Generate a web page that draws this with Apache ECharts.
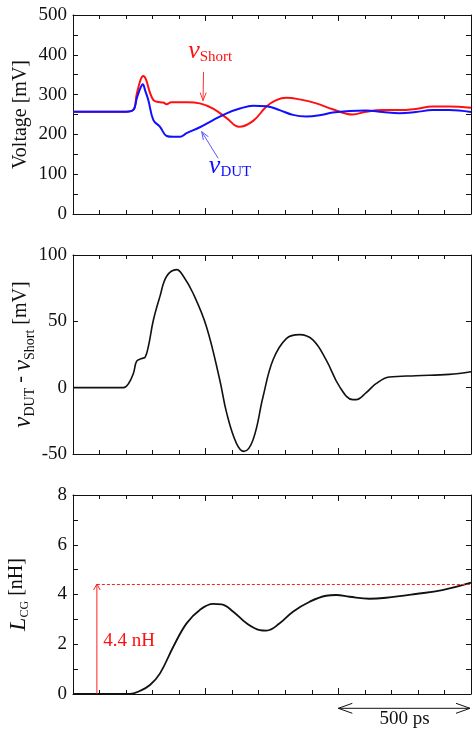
<!DOCTYPE html>
<html><head><meta charset="utf-8">
<script src="https://cdn.jsdelivr.net/npm/echarts@6/dist/echarts.min.js"></script>
<style>html,body{margin:0;padding:0;background:#fff}#c{width:472px;height:736px}</style>
</head><body><div id="c"></div>
<script>
// ---- data (time in ps) ----
const tShort = [0, 200, 228, 240, 255, 265, 275, 290, 303, 316, 340, 353, 370, 400, 430, 478, 528, 579, 626, 679, 729, 766, 804, 854, 917, 979, 1054, 1104, 1167, 1230, 1292, 1355, 1418, 1500];
const vShort = [257, 257, 262, 300, 338, 347, 338, 305, 286, 282, 280, 276, 281, 281, 281, 278, 265, 241, 219, 234, 270, 286, 292, 288, 278, 263, 250, 257, 261, 261, 264, 270, 270, 267];
const tDut = [0, 200, 228, 240, 255, 263, 272, 284, 303, 328, 353, 378, 403, 428, 478, 528, 579, 629, 679, 729, 779, 829, 879, 929, 979, 1042, 1104, 1167, 1230, 1292, 1355, 1418, 1500];
const vDut = [257, 257, 262, 290, 318, 326, 310, 286, 236, 219, 196, 194, 194, 203, 218, 236, 253, 265, 272, 271, 261, 249, 245, 248, 255, 259, 260, 256, 253, 256, 261, 261, 256];
const tDiff = [0, 190, 209, 228, 240, 259, 272, 284, 303, 328, 353, 391, 416, 453, 503, 553, 579, 616, 644, 679, 716, 754, 804, 854, 904, 954, 1004, 1054, 1067, 1104, 1142, 1192, 1292, 1418, 1500];
const vDiff = [0, 0, 3, 11, 20, 22, 23, 31, 51, 69, 84, 89, 84, 71, 46, 6, -19, -42, -48, -39, -7, 21, 37, 40, 36, 21, 1, -9, -9, -4, 3, 8, 9, 10, 12];
const tL = [0, 215, 253, 290, 328, 378, 428, 478, 528, 560, 604, 654, 704, 729, 779, 829, 892, 954, 992, 1042, 1117, 1180, 1292, 1392, 1500];
const lCG = [0, 0, 0.13, 0.36, 0.83, 1.9, 2.84, 3.38, 3.62, 3.6, 3.31, 2.84, 2.57, 2.55, 2.84, 3.31, 3.71, 3.95, 3.98, 3.91, 3.83, 3.87, 4.02, 4.18, 4.48];
const lLevel = 4.42;      // nH, dashed reference level
const lLabel = '4.4 nH';
const scaleLabel = '500 ps';
const scaleFrom = 1000, scaleTo = 1500;

const FONT = '"Liberation Serif", "Times New Roman", serif';
const BLACK = '#111';
const pairs = (t, v) => t.map((x, i) => [x, v[i]]);

const grids = [15, 255, 495].map(top => ({left: 73, top: top, width: 398, height: 199, outerBoundsMode: 'none', containLabel: false}));

function xAx(gi, pos) {
  return {type: 'value', gridIndex: gi, min: 0, max: 1500, interval: 500, position: pos,
    axisLine: {show: true, onZero: false, lineStyle: {color: BLACK, width: 1}},
    axisTick: {show: true, inside: true, length: 6, lineStyle: {color: BLACK, width: 1}},
    minorTick: {show: true, splitNumber: 5, length: 4, lineStyle: {color: BLACK, width: 1}},
    axisLabel: {show: false}, splitLine: {show: false}, minorSplitLine: {show: false}};
}
function yAx(gi, pos, min, max, interval, minorSplit, name, rich, gap) {
  const a = {type: 'value', gridIndex: gi, min: min, max: max, interval: interval, position: pos,
    axisLine: {show: true, onZero: false, lineStyle: {color: BLACK, width: 1}},
    axisTick: {show: true, inside: true, length: 5, lineStyle: {color: BLACK, width: 1}},
    minorTick: {show: minorSplit > 1, splitNumber: minorSplit, length: 5, lineStyle: {color: BLACK, width: 1}},
    axisLabel: {show: pos === 'left', margin: 6, fontFamily: FONT, fontSize: 19, color: BLACK},
    splitLine: {show: false}, minorSplitLine: {show: false}};
  if (pos === 'left' && name) {
    a.name = name; a.nameLocation = 'middle'; a.nameGap = gap; a.nameMoveOverlap = false;
    a.nameTextStyle = {fontFamily: FONT, fontSize: 20, color: BLACK, rich: rich};
  }
  return a;
}
const richName = {
  v: {fontFamily: FONT, fontStyle: 'italic', fontSize: 25, color: BLACK, lineHeight: 26, verticalAlign: 'top', padding: [0, 0, 4, 0]},
  L: {fontFamily: FONT, fontStyle: 'italic', fontSize: 24, color: BLACK, lineHeight: 26, verticalAlign: 'top', padding: [0, 0, 4, 0]},
  s: {fontFamily: FONT, fontSize: 14, color: BLACK, lineHeight: 14, verticalAlign: 'bottom'},
  c: {fontFamily: FONT, fontSize: 12, color: BLACK, lineHeight: 12, verticalAlign: 'bottom', padding: [0, 0, 2, 0]},
  n: {fontFamily: FONT, fontSize: 20, color: BLACK, lineHeight: 22, verticalAlign: 'top', padding: [0, 0, 0, 0]}
};

const xAxes = [], yAxes = [];
for (let g = 0; g < 3; g++) { xAxes.push(xAx(g, 'bottom'), xAx(g, 'top')); }
yAxes.push(yAx(0, 'left', 0, 500, 100, 2, 'Voltage [mV]', null, 42), yAx(0, 'right', 0, 500, 100, 2));
yAxes.push(yAx(1, 'left', -50, 100, 50, 0, '{v|v}{s|DUT}{n| - }{v|v}{s|Short}{n| [mV]}', richName, 36), yAx(1, 'right', -50, 100, 50, 0));
yAxes.push(yAx(2, 'left', 0, 8, 2, 2, '{L|L}{c|CG}{n| [nH]}', richName, 40), yAx(2, 'right', 0, 8, 2, 2));

const lineS = (name, gi, data, color, w) => ({name: name, type: 'line', xAxisIndex: gi * 2, yAxisIndex: gi * 2,
  data: data, showSymbol: false, smooth: 0.4, clip: true,
  lineStyle: {color: color, width: w}, z: 3});

const series = [
  lineS('vShort', 0, pairs(tShort, vShort), '#ff1010', 2),
  lineS('vDUT', 0, pairs(tDut, vDut), '#1010ff', 2),
  lineS('diff', 1, pairs(tDiff, vDiff), BLACK, 1.6),
  Object.assign(lineS('LCG', 2, pairs(tL, lCG), BLACK, 1.8), {
    markLine: {silent: true, symbol: ['none', 'none'], label: {show: false},
      lineStyle: {color: '#ff2020', type: [3, 2], width: 1},
      data: [[{coord: [90, lLevel]}, {coord: [1500, lLevel]}]]}
  })
];

const chart = echarts.init(document.getElementById('c'), null, {renderer: 'canvas'});
chart.setOption({animation: false, backgroundColor: '#fff', grid: grids, xAxis: xAxes, yAxis: yAxes, series: series});

const P = (g, x, y) => chart.convertToPixel({gridIndex: g}, [x, y]);
function arrow(a, b, len, half, color, w, opacity) {
  const dx = b[0] - a[0], dy = b[1] - a[1], L = Math.hypot(dx, dy), ux = dx / L, uy = dy / L;
  const bx = b[0] - ux * len, by = b[1] - uy * len;
  const st = {stroke: color, lineWidth: w, fill: null, opacity: opacity || 1};
  return [
    {type: 'line', shape: {x1: a[0], y1: a[1], x2: b[0], y2: b[1]}, style: st, silent: true, z: 10},
    {type: 'polyline', shape: {points: [[bx - uy * half, by + ux * half], b, [bx + uy * half, by - ux * half]]}, style: st, silent: true, z: 10}
  ];
}
function dblArrow(a, b, len, half, color, w) {
  return arrow(a, b, len, half, color, w).concat(arrow(b, a, len, half, color, w).slice(1));
}
const labelRich = (color, subSize) => ({
  v: {fontFamily: FONT, fontStyle: 'italic', fontSize: 26, fill: color, lineHeight: 26, verticalAlign: 'top', padding: [0, 0, 4, 0]},
  s: {fontFamily: FONT, fontSize: subSize, fill: color, lineHeight: subSize, verticalAlign: 'bottom'}
});
const g = [];
const bottomY = P(2, 0, 0)[1];
g.push(...arrow(P(0, 492, 357), P(0, 490, 285), 8, 3, '#ff3030', 1));
g.push(...arrow(P(0, 547, 140), P(0, 485, 207), 8, 3, '#5a5aff', 1));
const pS = P(0, 434, 442), pD = P(0, 512, 153);
g.push({type: 'text', x: pS[0], y: pS[1], z: 10, silent: true, style: {text: '{v|v}{s|Short}', rich: labelRich('#ff1010', 15), align: 'left', verticalAlign: 'top'}});
g.push({type: 'text', x: pD[0], y: pD[1], z: 10, silent: true, style: {text: '{v|v}{s|DUT}', rich: labelRich('#1010ff', 15), align: 'left', verticalAlign: 'top'}});
g.push(...arrow(P(2, 90, 0), P(2, 90, lLevel), 6, 3.3, '#ff2020', 1));
const pL = P(2, 114, 2.11);
g.push({type: 'text', x: pL[0], y: pL[1], z: 10, silent: true, style: {text: lLabel, fill: '#ff1010', font: '19px ' + FONT, align: 'left', verticalAlign: 'middle'}});
const sa = P(2, scaleFrom, 0), sb = P(2, scaleTo, 0);
g.push(...dblArrow([sa[0], bottomY + 14.3], [sb[0] - 1, bottomY + 14.3], 14, 5, BLACK, 1));
g.push({type: 'text', x: (sa[0] + sb[0]) / 2, y: bottomY + 25.5, z: 10, silent: true, style: {text: scaleLabel, fill: BLACK, font: '19px ' + FONT, align: 'center', verticalAlign: 'middle'}});
chart.setOption({graphic: {elements: g}});
</script></body></html>
